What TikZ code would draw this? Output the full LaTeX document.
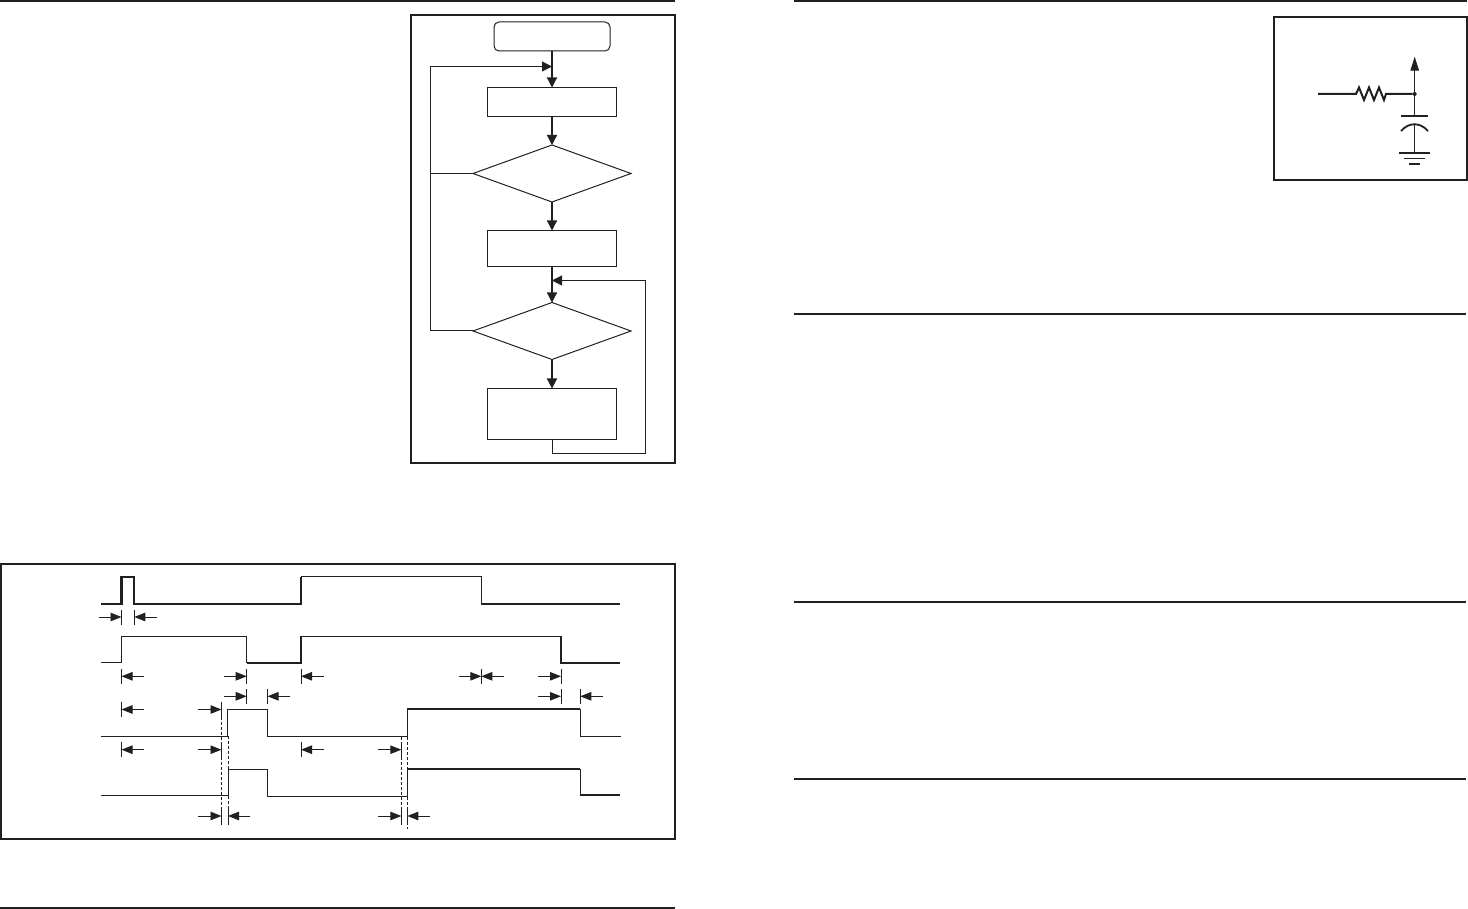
\documentclass[tikz,border=0pt]{standalone}
\usetikzlibrary{arrows.meta,shapes.geometric,positioning}
\definecolor{ink}{HTML}{231F20}
\tikzset{
  x=1pt,y=-1pt,
  rule/.style={line width=1.6pt},
  frame/.style={line width=2pt},
  thin wave/.style={line width=1pt},
  thick wave/.style={line width=2.2pt},
  flowbox/.style={draw=ink,rectangle,line width=1pt,inner sep=0pt,outer sep=0pt,minimum width=129pt},
  startbox/.style={draw=ink,rectangle,rounded corners=5pt,line width=1pt,inner sep=0pt,outer sep=0pt,minimum width=116pt,minimum height=29pt},
  decision/.style={draw=ink,diamond,shape aspect=2.77,line width=1pt,inner sep=0pt,outer sep=0pt,minimum width=158pt,minimum height=57pt},
  flow/.style={line width=1.3pt,-{Triangle[length=10pt,width=10pt]}},
  link/.style={line width=1pt},
  dim/.style={line width=0.9pt,-{Triangle[length=11pt,width=8.5pt]}},
  tick/.style={line width=0.9pt},
  guide/.style={line width=0.9pt,dash pattern=on 3pt off 2pt},
  pin/.style={circle,fill=ink,draw=none,minimum size=4pt,inner sep=0pt,outer sep=0pt}
}
% #1 tick half height, #2 row y, #3 tick x, #4 arrow tail x
\newcommand{\dimmark}[4][7.5]{%
  \draw[tick] (#3,#2-#1) -- (#3,#2+#1);
  \draw[dim] (#4,#2) -- (#3,#2);}
\begin{document}
\begin{tikzpicture}[color=ink]
\useasboundingbox (0,0) rectangle (1468,909);
% page rules
\draw[rule] (0,1) -- (675,1);
\draw[rule] (794,1) -- (1467,1);
\draw[rule] (794,314) -- (1466,314);
\draw[rule] (794,602) -- (1466,602);
\draw[rule] (794,779) -- (1466,779);
\draw[rule] (0,908) -- (675,908);
% flowchart frame
\draw[frame] (411,15) rectangle (675,462.7);
\node[startbox] (start) at (552,36.5) {};
\node[flowbox,minimum height=29pt] (box1) at (552,102) {};
\node[decision] (dec1) at (552,173.5) {};
\node[flowbox,minimum height=36pt] (box2) at (552,248.5) {};
\node[decision] (dec2) at (552,331) {};
\node[flowbox,minimum height=51pt] (box3) at (552,414) {};
\coordinate (join1) at (552,66.5);
\coordinate (join2) at (552,280.5);
\coordinate (backL) at (430.5,66.5);
\coordinate (backLm) at (430.5,173.5);
\coordinate (backLb) at (430.5,331);
\coordinate (loopA) at (552,453.5);
\coordinate (loopB) at (645.5,453.5);
\coordinate (loopC) at (645.5,280.5);
\draw[flow] (start) -- (box1);
\draw[flow] (box1) -- (dec1);
\draw[flow] (dec1) -- (box2);
\draw[flow] (box2) -- (dec2);
\draw[flow] (dec2) -- (box3);
\draw[link] (dec2.west) -- (backLb) -- (backLm) -- (backL);
\draw[link] (dec1.west) -- (backLm);
\draw[flow,line width=1pt] (backL) -- (join1);
\draw[link] (box3.south) -- (loopA) -- (loopB) -- (loopC);
\draw[flow,line width=1pt] (loopC) -- (join2);
% timing frame
\draw[frame] (1,564) rectangle (675,838.7);
% waveform 1
\draw[thick wave] (101,603.7) -- (121.5,603.7) -- (121.5,576.7) -- (134,576.7) -- (134,603.7) -- (301,603.7) -- (301,576.7);
\draw[thin wave] (301,576.7) -- (481.3,576.7) -- (481.3,603.7);
\draw[thick wave] (481.3,603.7) -- (620,603.7);
% waveform 2
\draw[thin wave] (101,662.7) -- (121.5,662.7) -- (121.5,636.3) -- (246.7,636.3) -- (246.7,662.7);
\draw[thick wave] (246.7,662.7) -- (301,662.7) -- (301,636.3);
\draw[thin wave] (301,636.3) -- (561,636.3);
\draw[thick wave] (561,636.3) -- (561,662.7) -- (620,662.7);
% waveform 3
\draw[thin wave] (101,736.2) -- (227.7,736.2) -- (227.7,709.5) -- (267.3,709.5) -- (267.3,736.2) -- (407.3,736.2) -- (407.3,709.7);
\draw[thick wave] (407.3,708.7) -- (580.3,708.7);
\draw[thin wave] (580.3,708.7) -- (580.3,736.2) -- (621,736.2);
% waveform 4
\draw[thin wave] (101,795.5) -- (228,795.5) -- (228,769.5) -- (267.3,769.5) -- (267.3,796.5) -- (407.3,796.5) -- (407.3,768.7);
\draw[thick wave] (407.3,768.7) -- (580.3,768.7);
\draw[thin wave] (580.3,768.7) -- (580.3,795.3);
\draw[thick wave] (580.3,795.3) -- (620,795.3);
% timing guides
\draw[guide] (221.5,717) -- (221.5,808);
\draw[guide] (228,736) -- (228,808);
\draw[guide] (401.3,737) -- (401.3,808);
\draw[guide] (407.3,737) -- (407.3,829);
% timing dimensions
\dimmark{617}{121.5}{99}
\dimmark{617}{134.3}{156.7}
\dimmark{676.3}{121.5}{144}
\dimmark{676.3}{246.7}{224}
\dimmark{676.3}{301}{324}
\dimmark{676.3}{481.3}{459}
\dimmark{676.3}{481.3}{503.7}
\dimmark{676.3}{561}{538}
\dimmark{696.3}{246.7}{224}
\dimmark{696.3}{267.5}{290}
\dimmark{696.3}{561}{538}
\dimmark{696.3}{580.3}{602.7}
\dimmark{709.5}{121.5}{144}
\dimmark{709.5}{221.5}{198}
\dimmark{749.7}{121.5}{144}
\dimmark{749.7}{221.5}{198}
\dimmark{749.7}{301}{324}
\dimmark{749.7}{401.3}{378}
\dimmark[9]{816}{221.5}{198}
\dimmark[9]{816}{228}{250}
\dimmark[9]{816}{401.3}{378}
\dimmark[9]{816}{407.3}{430}
% circuit frame
\draw[frame] (1274,16.7) rectangle (1467,180);
\node[pin] (nodeA) at (1414.7,94) {};
\coordinate (inA) at (1318,94);
\coordinate (outA) at (1414.7,56.7);
\coordinate (plateT) at (1414.7,115.7);
\coordinate (plateB) at (1414.7,124);
\coordinate (gnd) at (1414.7,153);
\draw[line width=2pt] (inA) -- (1356,94) -- (1359,87.5) -- (1364,100) -- (1369,87.5) -- (1374,100) -- (1379,87.5) -- (1384,100) -- (1386,94) -- (nodeA);
\draw[line width=1.2pt,-{Triangle[length=14pt,width=8.5pt]}] (nodeA) -- (outA);
\draw[line width=1.2pt] (nodeA) -- (plateT);
\draw[line width=1.8pt] (1401,115.7) -- (1428,115.7);
\draw[line width=1.8pt] (1401,131) .. controls (1409,122) and (1420,122) .. (1428,131);
\draw[line width=1.2pt] (plateB) -- (gnd);
\draw[line width=1.8pt] (1399,153) -- (1430,153);
\draw[line width=1.2pt] (1404,158.7) -- (1425,158.7);
\draw[line width=1.8pt] (1409,163.7) -- (1420,163.7);
\end{tikzpicture}
\end{document}
